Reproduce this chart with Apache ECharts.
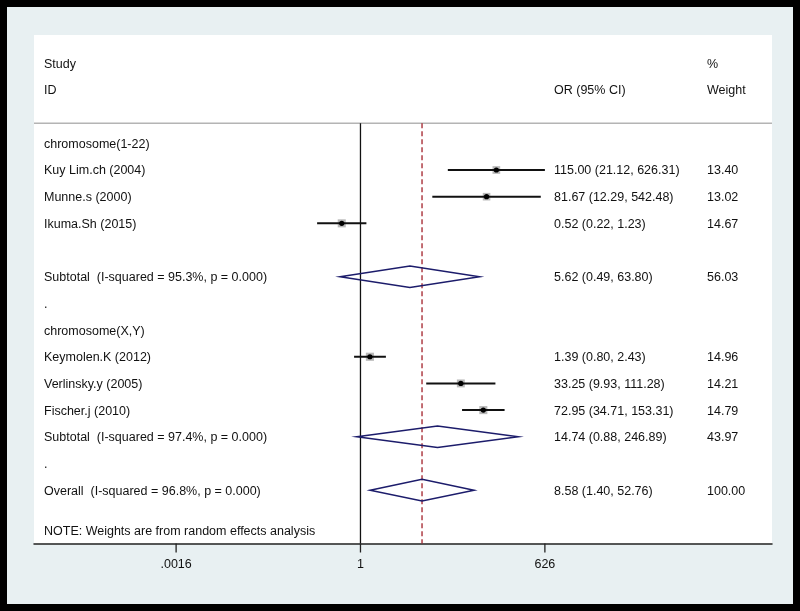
<!DOCTYPE html>
<html><head><meta charset="utf-8">
<script src="https://cdn.jsdelivr.net/npm/echarts@6/dist/echarts.min.js"></script>
<style>html,body{margin:0;padding:0;background:#000}#c{width:800px;height:611px}</style>
</head><body><div id="c"></div>
<script>
// ---- data ----
const studyNames = ['Kuy Lim.ch (2004)', 'Munne.s (2000)', 'Ikuma.Sh (2015)', 'Keymolen.K (2012)', 'Verlinsky.y (2005)', 'Fischer.j (2010)'];
const studyOR = [115.00, 81.67, 0.52, 1.39, 33.25, 72.95];
const studyLo = [21.12, 12.29, 0.22, 0.80, 9.93, 34.71];
const studyHi = [626.31, 542.48, 1.23, 2.43, 111.28, 153.31];
const studyWeight = [13.40, 13.02, 14.67, 14.96, 14.21, 14.79];
const studyRows = [1, 2, 3, 8, 9, 10];

const pooledNames = ['Subtotal  (I-squared = 95.3%, p = 0.000)', 'Subtotal  (I-squared = 97.4%, p = 0.000)', 'Overall  (I-squared = 96.8%, p = 0.000)'];
const pooledOR = [5.62, 14.74, 8.58];
const pooledLo = [0.49, 0.88, 1.40];
const pooledHi = [63.80, 246.89, 52.76];
const pooledWeight = [56.03, 43.97, 100.00];
const pooledRows = [5, 11, 13];

const groupNames = ['chromosome(1-22)', 'chromosome(X,Y)'];
const groupRows = [0, 7];
const spacerRows = [6, 12];

const headerStudy = ['Study', 'ID'];
const headerOR = 'OR (95% CI)';
const headerWeight = ['%', 'Weight'];
const noteText = 'NOTE: Weights are from random effects analysis';

const tickValues = [0.0016, 1, 626];
const tickLabels = ['.0016', '1', '626'];

// ---- layout ----
const FONT = '"Liberation Sans", Arial, sans-serif';
const FS = 12.5;
const COLX = [44, 554, 707];
const ROW_TOP = -4.06, ROW_BOTTOM = 15.0, HEADER_LINE_ROW = -0.75;
const X_MIN = Math.exp(-11.40), X_MAX = Math.exp(14.37);

const f2 = v => v.toFixed(2);
const textData = [];
textData.push([-3, headerStudy[0], 0], [-2, headerStudy[1], 0], [-2, headerOR, 1], [-3, headerWeight[0], 2], [-2, headerWeight[1], 2]);
groupNames.forEach((g, i) => textData.push([groupRows[i], g, 0]));
spacerRows.forEach(r => textData.push([r, '.', 0]));
studyNames.forEach((n, i) => {
  textData.push([studyRows[i], n, 0]);
  textData.push([studyRows[i], f2(studyOR[i]) + ' (' + f2(studyLo[i]) + ', ' + f2(studyHi[i]) + ')', 1]);
  textData.push([studyRows[i], f2(studyWeight[i]), 2]);
});
pooledNames.forEach((n, i) => {
  textData.push([pooledRows[i], n, 0]);
  textData.push([pooledRows[i], f2(pooledOR[i]) + ' (' + f2(pooledLo[i]) + ', ' + f2(pooledHi[i]) + ')', 1]);
  textData.push([pooledRows[i], f2(pooledWeight[i]), 2]);
});
textData.push([14.5, noteText, 0]);

const studyData = studyNames.map((n, i) => [studyOR[i], studyRows[i], studyLo[i], studyHi[i], studyWeight[i]]);
const pooledData = pooledNames.map((n, i) => [pooledOR[i], pooledRows[i], pooledLo[i], pooledHi[i]]);

const chart = echarts.init(document.getElementById('c'), null, {renderer: 'canvas'});
chart.setOption({
  animation: false,
  backgroundColor: '#e8f0f2',
  graphic: [{type: 'rect', shape: {x: 0, y: 0, width: 800, height: 611}, style: {fill: 'none', stroke: '#000', lineWidth: 14}, z: 100, silent: true}],
  grid: {left: 34, right: 28, top: 35, bottom: 67.5, show: true, backgroundColor: '#fff', borderWidth: 0},
  xAxis: {
    type: 'log', logBase: Math.E, min: X_MIN, max: X_MAX, position: 'bottom',
    axisLine: {show: true, onZero: false, lineStyle: {color: '#222', width: 1.5}},
    axisTick: {show: false}, axisLabel: {show: false}, splitLine: {show: false}
  },
  yAxis: {type: 'value', inverse: true, min: ROW_TOP, max: ROW_BOTTOM, show: false, splitLine: {show: false}},
  series: [
    { // header separator & reference lines
      type: 'custom', z: 1,
      data: [[pooledOR[2]]],
      renderItem: (params, api) => {
        const hl0 = api.coord([X_MIN, HEADER_LINE_ROW]);
        const hl1 = api.coord([X_MAX, HEADER_LINE_ROW]);
        const n0 = api.coord([1, HEADER_LINE_ROW]);
        const n1 = api.coord([1, ROW_BOTTOM]);
        const d0 = api.coord([api.value(0), HEADER_LINE_ROW]);
        const d1 = api.coord([api.value(0), ROW_BOTTOM]);
        return {type: 'group', children: [
          {type: 'line', shape: {x1: hl0[0], y1: hl0[1], x2: hl1[0], y2: hl1[1]}, style: {stroke: '#b4b4b4', lineWidth: 1.5}},
          {type: 'line', shape: {x1: n0[0], y1: n0[1], x2: n1[0], y2: n1[1]}, style: {stroke: '#111', lineWidth: 1.3}},
          {type: 'line', shape: {x1: d0[0], y1: d0[1], x2: d1[0], y2: d1[1]}, style: {stroke: '#a3212a', lineWidth: 1.3, lineDash: [5, 3]}}
        ]};
      }
    },
    { // studies: CI line, weight box, point
      type: 'custom', z: 3,
      data: studyData,
      renderItem: (params, api) => {
        const c = api.coord([api.value(0), api.value(1)]);
        const l = api.coord([api.value(2), api.value(1)]);
        const h = api.coord([api.value(3), api.value(1)]);
        const s = 2.1 * Math.sqrt(api.value(4));
        return {type: 'group', children: [
          {type: 'rect', shape: {x: c[0] - s / 2, y: c[1] - s / 2, width: s, height: s}, style: {fill: '#b9b9b9'}},
          {type: 'line', shape: {x1: l[0], y1: l[1], x2: h[0], y2: h[1]}, style: {stroke: '#111', lineWidth: 2}},
          {type: 'circle', shape: {cx: c[0], cy: c[1], r: 2.6}, style: {fill: '#000'}}
        ]};
      }
    },
    { // pooled diamonds
      type: 'custom', z: 3,
      data: pooledData,
      renderItem: (params, api) => {
        const c = api.coord([api.value(0), api.value(1)]);
        const l = api.coord([api.value(2), api.value(1)]);
        const h = api.coord([api.value(3), api.value(1)]);
        const hh = 10.8;
        return {type: 'polygon', shape: {points: [[l[0], c[1]], [c[0], c[1] - hh], [h[0], c[1]], [c[0], c[1] + hh]]},
          style: {fill: 'none', stroke: '#1c1c6b', lineWidth: 1.5}};
      }
    },
    { // axis ticks and labels
      type: 'custom', z: 3,
      data: tickValues.map((v, i) => [v, tickLabels[i]]),
      renderItem: (params, api) => {
        const p = api.coord([api.value(0), ROW_BOTTOM]);
        return {type: 'group', children: [
          {type: 'line', shape: {x1: p[0], y1: p[1], x2: p[0], y2: p[1] + 9}, style: {stroke: '#222', lineWidth: 1.3}},
          {type: 'text', x: p[0], y: p[1] + 21, style: {text: tickLabels[params.dataIndex], fill: '#111', fontSize: FS, fontFamily: FONT, align: 'center', verticalAlign: 'middle'}}
        ]};
      }
    },
    { // table text
      type: 'custom', z: 4,
      data: textData.map(t => [1, t[0]]),
      renderItem: (params, api) => {
        const t = textData[params.dataIndex];
        const p = api.coord([1, t[0]]);
        return {type: 'text', x: COLX[t[2]], y: p[1] + 1, style: {text: t[1], fill: '#111', fontSize: FS, fontFamily: FONT, align: 'left', verticalAlign: 'middle'}};
      }
    }
  ]
});
</script></body></html>
